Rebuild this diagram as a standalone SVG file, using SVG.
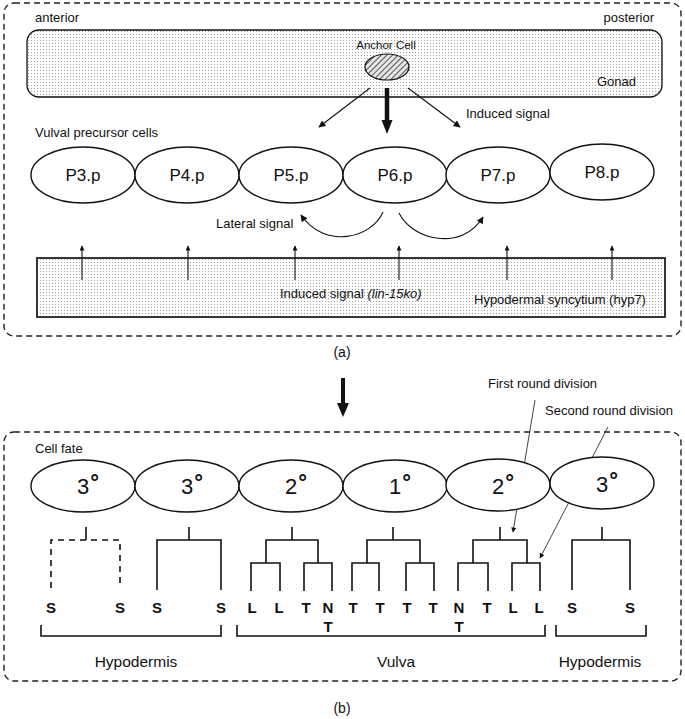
<svg xmlns="http://www.w3.org/2000/svg" width="685" height="719" viewBox="0 0 685 719">
<defs>
<style>
text{font-family:"Liberation Sans",Arial,Helvetica,sans-serif;fill:#111}
.lbl{font-size:13px}
.vpc{font-size:17px}
.fate{font-size:22px}
.leaf{font-size:15px;font-weight:bold;text-anchor:middle}
.big{font-size:15.5px;text-anchor:middle}
.frame{fill:none;stroke:#222;stroke-width:1.4;stroke-dasharray:6 4}
.cell{fill:#fff;stroke:#111;stroke-width:1.4}
.thin{fill:none;stroke:#111;stroke-width:1.1}
.tree{fill:none;stroke:#111;stroke-width:1.6}
.ptr{fill:none;stroke:#111;stroke-width:0.8}
</style>
<pattern id="dots" width="3" height="3" patternUnits="userSpaceOnUse"><rect width="3" height="3" fill="#fff"/><rect x="1" y="1" width="1" height="1" fill="#a0a0a0"/></pattern>
<pattern id="hatch" width="4" height="4" patternUnits="userSpaceOnUse" patternTransform="rotate(45)"><rect width="4" height="4" fill="#e6e6e6"/><line x1="0.5" y1="0" x2="0.5" y2="4" stroke="#555" stroke-width="1"/></pattern>
<marker id="ah" viewBox="0 0 10 10" refX="9" refY="5" markerWidth="8" markerHeight="7" markerUnits="userSpaceOnUse" orient="auto"><path d="M0,0 L10,5 L0,10 z" fill="#111"/></marker>
<marker id="ahs" viewBox="0 0 10 10" refX="9" refY="5" markerWidth="7" markerHeight="5" markerUnits="userSpaceOnUse" orient="auto"><path d="M0,0 L10,5 L0,10 z" fill="#111"/></marker>
</defs>
<rect width="685" height="719" fill="#fff"/>

<!-- Panel (a) -->
<g id="panel-a">
<rect class="frame" x="4" y="3" width="677" height="333" rx="10"/>
<text class="lbl" x="35" y="22">anterior</text>
<text class="lbl" x="654" y="22" text-anchor="end">posterior</text>
<text class="lbl" x="35" y="137">Vulval precursor cells</text>
<text x="342" y="357" font-size="14" text-anchor="middle">(a)</text>
</g>

<g id="gonad">
<rect x="27" y="30" width="635" height="67" rx="12" fill="url(#dots)" stroke="#111" stroke-width="1.3"/>
<text class="lbl" x="636" y="86" text-anchor="end">Gonad</text>
</g>

<g id="anchor-cell">
<text x="386" y="49" font-size="11.5" text-anchor="middle">Anchor Cell</text>
<ellipse cx="387" cy="67" rx="22" ry="13" fill="url(#hatch)" stroke="#111" stroke-width="1.2"/>
</g>

<g id="vpc-P3"><ellipse class="cell" cx="83" cy="175" rx="52" ry="28"/><text class="vpc" x="83" y="181" text-anchor="middle">P3.p</text></g>
<g id="vpc-P4"><ellipse class="cell" cx="187" cy="175" rx="52" ry="28"/><text class="vpc" x="187" y="181" text-anchor="middle">P4.p</text></g>
<g id="vpc-P5"><ellipse class="cell" cx="291" cy="175" rx="52" ry="28"/><text class="vpc" x="291" y="181" text-anchor="middle">P5.p</text></g>
<g id="vpc-P6"><ellipse class="cell" cx="395" cy="175" rx="52" ry="28"/><text class="vpc" x="395" y="181" text-anchor="middle">P6.p</text></g>
<g id="vpc-P7"><ellipse class="cell" cx="498" cy="175" rx="52" ry="28"/><text class="vpc" x="498" y="181" text-anchor="middle">P7.p</text></g>
<g id="vpc-P8"><ellipse class="cell" cx="602" cy="172" rx="52" ry="28"/><text class="vpc" x="602" y="178" text-anchor="middle">P8.p</text></g>

<g id="hyp7">
<rect x="37" y="258" width="628" height="59" fill="url(#dots)" stroke="#222" stroke-width="1.8"/>
<text class="lbl" x="280" y="298">Induced signal <tspan font-style="italic">(lin-15ko)</tspan></text>
<text class="lbl" x="474" y="304">Hypodermal syncytium (hyp7)</text>
</g>

<g id="connectors">
<!-- induced signal from anchor cell -->
<line class="thin" x1="370" y1="88" x2="319" y2="127" marker-end="url(#ah)"/>
<line class="thin" x1="408" y1="88" x2="460" y2="127" marker-end="url(#ah)"/>
<line x1="387" y1="88" x2="387" y2="121" stroke="#111" stroke-width="4.5"/>
<polygon points="381.5,120 392.5,120 387,134" fill="#111"/>
<text class="lbl" x="466" y="118">Induced signal</text>
<!-- lateral signal -->
<path class="thin" stroke-width="1.4" d="M383,212 C372,238 325,250 301,215" marker-end="url(#ah)"/>
<path class="thin" stroke-width="1.4" d="M399,213 C412,240 462,252 483,217" marker-end="url(#ah)"/>
<text class="lbl" x="216" y="228">Lateral signal</text>
<!-- hyp7 up arrows -->
<line class="thin" x1="82" y1="280" x2="82" y2="246" marker-end="url(#ahs)"/>
<line class="thin" x1="188" y1="280" x2="188" y2="246" marker-end="url(#ahs)"/>
<line class="thin" x1="295" y1="280" x2="295" y2="246" marker-end="url(#ahs)"/>
<line class="thin" x1="399" y1="280" x2="399" y2="246" marker-end="url(#ahs)"/>
<line class="thin" x1="507" y1="280" x2="507" y2="246" marker-end="url(#ahs)"/>
<line class="thin" x1="612" y1="280" x2="612" y2="246" marker-end="url(#ahs)"/>
<!-- (a) to (b) -->
<line x1="343" y1="378" x2="343" y2="404" stroke="#111" stroke-width="4"/>
<polygon points="337,403 349,403 343,417" fill="#111"/>
<!-- division pointers -->
<line class="ptr" x1="535" y1="400" x2="513" y2="532" marker-end="url(#ahs)"/>
<line class="ptr" x1="608" y1="427" x2="540" y2="558" marker-end="url(#ahs)"/>
<text class="lbl" x="488" y="388">First round division</text>
<text class="lbl" x="545" y="415">Second round division</text>
</g>

<!-- Panel (b) -->
<g id="panel-b">
<rect class="frame" x="4" y="432" width="677" height="249" rx="10"/>
<text class="lbl" x="35" y="453">Cell fate</text>
<text x="342" y="713" font-size="14" text-anchor="middle">(b)</text>
</g>

<g id="fate-P3"><ellipse class="cell" cx="83" cy="486" rx="52" ry="26"/><text class="fate" x="77" y="494">3<tspan dx="1" dy="-4" font-weight="bold">°</tspan></text></g>
<g id="fate-P4"><ellipse class="cell" cx="187" cy="486" rx="52" ry="26"/><text class="fate" x="181" y="494">3<tspan dx="1" dy="-4" font-weight="bold">°</tspan></text></g>
<g id="fate-P5"><ellipse class="cell" cx="291" cy="486" rx="52" ry="26"/><text class="fate" x="285" y="494">2<tspan dx="1" dy="-4" font-weight="bold">°</tspan></text></g>
<g id="fate-P6"><ellipse class="cell" cx="395" cy="486" rx="52" ry="26"/><text class="fate" x="389" y="494">1<tspan dx="1" dy="-4" font-weight="bold">°</tspan></text></g>
<g id="fate-P7"><ellipse class="cell" cx="498" cy="485" rx="52" ry="26"/><text class="fate" x="492" y="494">2<tspan dx="1" dy="-4" font-weight="bold">°</tspan></text></g>
<g id="fate-P8"><ellipse class="cell" cx="602" cy="483" rx="52" ry="26"/><text class="fate" x="596" y="492">3<tspan dx="1" dy="-4" font-weight="bold">°</tspan></text></g>

<g id="lineages">
<path class="tree" d="M86,527 V540"/>
<path class="tree" stroke-dasharray="6 5" d="M51,588 V540 H120 V588"/>
<path class="tree" d="M189,527 V540 M157,590 V540 H221 V590"/>
<path class="tree" d="M292,527 V540 M266,563 V540 H318 V563 M251,591 V563 H280 V591 M304,591 V563 H332 V591"/>
<path class="tree" d="M393,527 V540 M367,563 V540 H420 V563 M352,591 V563 H379 V591 M406,591 V563 H434 V591"/>
<path class="tree" d="M500,527 V540 M473,563 V540 H527 V563 M458,591 V563 H488 V591 M512,591 V563 H540 V591"/>
<path class="tree" d="M602,527 V540 M572,590 V540 H630 V590"/>
</g>

<g id="leaf-labels">
<text class="leaf" x="51" y="613">S</text>
<text class="leaf" x="120" y="613">S</text>
<text class="leaf" x="157" y="613">S</text>
<text class="leaf" x="221" y="613">S</text>
<text class="leaf" x="252" y="613">L</text>
<text class="leaf" x="279" y="613">L</text>
<text class="leaf" x="306" y="613">T</text>
<text class="leaf" x="328" y="613">N</text>
<text class="leaf" x="328" y="632">T</text>
<text class="leaf" x="353" y="613">T</text>
<text class="leaf" x="380" y="613">T</text>
<text class="leaf" x="407" y="613">T</text>
<text class="leaf" x="433" y="613">T</text>
<text class="leaf" x="459" y="613">N</text>
<text class="leaf" x="459" y="632">T</text>
<text class="leaf" x="487" y="613">T</text>
<text class="leaf" x="513" y="613">L</text>
<text class="leaf" x="539" y="613">L</text>
<text class="leaf" x="572" y="613">S</text>
<text class="leaf" x="630" y="613">S</text>
</g>

<g id="tissue-brackets">
<path class="tree" stroke-width="1.3" d="M41,625 V636 H221 V625"/>
<path class="tree" stroke-width="1.3" d="M237,625 V636 H545 V625"/>
<path class="tree" stroke-width="1.3" d="M556,625 V636 H646 V625"/>
<text class="big" x="136" y="667">Hypodermis</text>
<text class="big" x="396" y="667">Vulva</text>
<text class="big" x="600" y="667">Hypodermis</text>
</g>
</svg>
